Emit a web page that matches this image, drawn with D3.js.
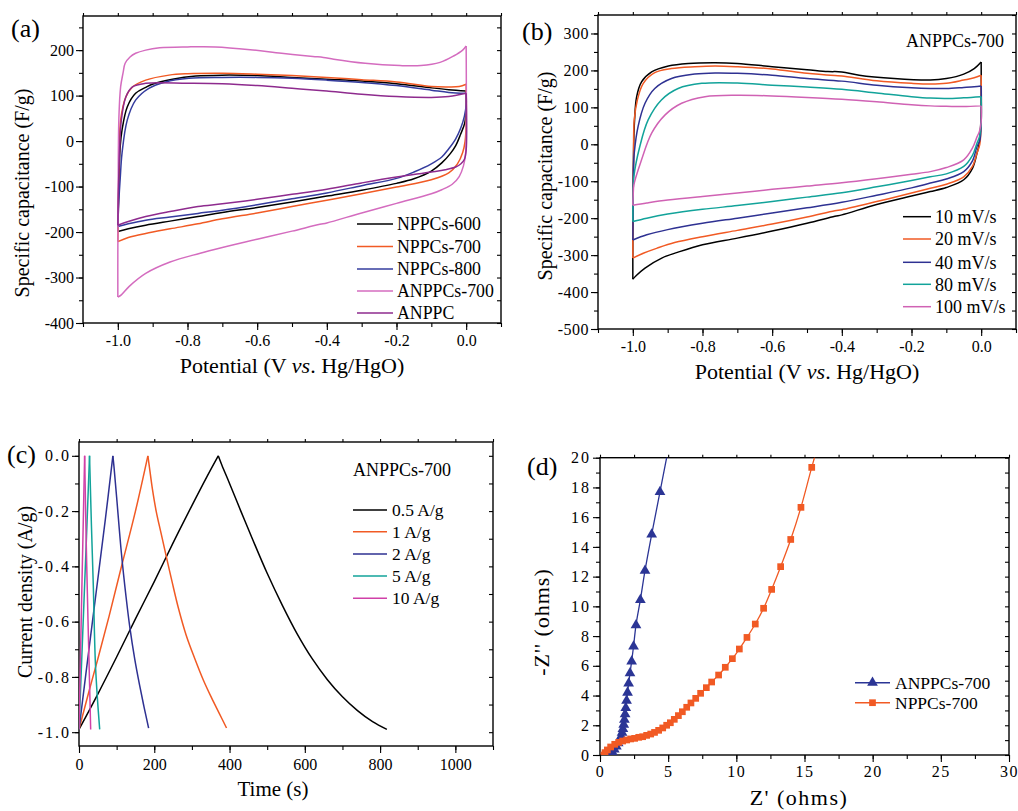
<!DOCTYPE html>
<html>
<head>
<meta charset="utf-8">
<script src="https://cdn.jsdelivr.net/npm/d3@7"></script>
<style>
  body { margin: 0; background: #fff; }
  svg { display: block; font-family: "Liberation Serif", "Times New Roman", serif; }
</style>
</head>
<body>
<script>

// ---------- panel (a): CV loops, potential (V) vs specific capacitance (F/g)
const aNames = ['NPPCs-600', 'NPPCs-700', 'NPPCs-800', 'ANPPCs-700', 'ANPPC'];
const aColors = ['#000000', '#f15a24', '#353c9e', '#d46cbf', '#8e2b8e'];
const aXTicks = [-1.0, -0.8, -0.6, -0.4, -0.2, 0.0];
const aYTicks = [-400, -300, -200, -100, 0, 100, 200];

const a600 = [[-1.0,-199],[-0.998,-120],[-0.996,-64],[-0.993,-10],[-0.988,24],[-0.973,75],[-0.949,105],[-0.92,118],[-0.901,125],[-0.843,136],[-0.776,143],[-0.7,145],[-0.6,144],[-0.5,140],[-0.4,136],[-0.3,132],[-0.2,126],[-0.1,117],[-0.05,113],[0,110],
  [0,75],[-0.004,40],[-0.016,15],[-0.03,-10],[-0.045,-27],[-0.07,-48],[-0.1,-66],[-0.15,-83],[-0.2,-93],[-0.3,-108],[-0.4,-121],[-0.5,-134],[-0.6,-146],[-0.7,-157],[-0.77,-166],[-0.85,-176],[-0.92,-185],[-0.97,-193],[-1.0,-199]];
const a700 = [[-1.0,-221],[-0.998,-120],[-0.996,-30],[-0.992,46],[-0.977,97],[-0.958,119],[-0.92,134],[-0.853,145],[-0.8,148],[-0.7,149],[-0.6,147],[-0.5,144],[-0.4,140],[-0.3,135],[-0.2,130],[-0.1,120],[-0.05,119],[-0.02,120],[0,125],
  [0,40],[-0.003,0],[-0.01,-25],[-0.025,-50],[-0.05,-70],[-0.1,-85],[-0.2,-101],[-0.3,-116],[-0.4,-130],[-0.5,-144],[-0.6,-158],[-0.7,-171],[-0.77,-182],[-0.85,-193],[-0.92,-203],[-0.97,-212],[-1.0,-221]];
const a800 = [[-1.0,-188],[-0.997,-130],[-0.993,-80],[-0.988,-27],[-0.973,46],[-0.949,90],[-0.911,116],[-0.863,130],[-0.796,138],[-0.7,140],[-0.6,140],[-0.5,138],[-0.4,134],[-0.3,129],[-0.2,122],[-0.1,112],[-0.05,107],[0,105],
  [0,80],[-0.005,55],[-0.015,30],[-0.03,5],[-0.05,-17],[-0.07,-35],[-0.1,-50],[-0.15,-68],[-0.2,-82],[-0.3,-98],[-0.4,-114],[-0.5,-127],[-0.6,-140],[-0.7,-152],[-0.77,-159],[-0.85,-167],[-0.92,-174],[-0.97,-182],[-1.0,-188]];
const aA700 = [[-1.0,-343],[-1.0,-250],[-0.999,-100],[-0.997,50],[-0.992,119],[-0.985,150],[-0.979,171],[-0.965,185],[-0.949,193],[-0.92,200],[-0.88,205],[-0.8,207],[-0.72,207],[-0.62,201],[-0.53,193],[-0.44,186],[-0.41,184],[-0.38,180],[-0.29,171],[-0.19,166],[-0.13,166],[-0.075,173],[-0.036,187],[-0.01,200],[0,209],
  [0,0],[-0.002,-30],[-0.008,-55],[-0.02,-78],[-0.04,-95],[-0.07,-107],[-0.1,-116],[-0.2,-137],[-0.3,-158],[-0.4,-180],[-0.42,-183],[-0.5,-198],[-0.6,-216],[-0.7,-234],[-0.766,-247],[-0.85,-266],[-0.92,-291],[-0.968,-320],[-0.99,-338],[-1.0,-343]];
const aA = [[-1.0,-185],[-0.998,-100],[-0.995,-20],[-0.99,46],[-0.977,97],[-0.958,119],[-0.92,127],[-0.8,127],[-0.7,126],[-0.6,122],[-0.5,116],[-0.42,111],[-0.4,110],[-0.3,103],[-0.2,98],[-0.1,96],[-0.05,98],[0,105],
  [0,-20],[-0.005,-40],[-0.015,-50],[-0.03,-57],[-0.06,-63],[-0.1,-68],[-0.2,-79],[-0.3,-92],[-0.4,-106],[-0.5,-117],[-0.6,-128],[-0.7,-138],[-0.77,-144],[-0.85,-155],[-0.92,-166],[-0.97,-177],[-1.0,-185]];

// ---------- panel (b): CV of ANPPCs-700 at several scan rates
const bNames = ['10 mV/s', '20 mV/s', '40 mV/s', '80 mV/s', '100 mV/s'];
const bColors = ['#000000', '#f15a24', '#2e3192', '#12a39a', '#d062b4'];
const bXTicks = [-1.0, -0.8, -0.6, -0.4, -0.2, 0.0];
const bYTicks = [-500, -400, -300, -200, -100, 0, 100, 200, 300];

const b10 = [[-1.0,-365],[-1.0,-250],[-0.999,-100],[-0.997,20],[-0.995,66],[-0.989,129],[-0.975,169],[-0.946,196],[-0.898,212],[-0.841,219],[-0.764,221],[-0.7,219],[-0.6,210],[-0.5,202],[-0.44,197],[-0.4,196],[-0.35,187],[-0.25,178],[-0.146,174],[-0.1,178],[-0.05,190],[-0.02,205],[0,223],
  [0,100],[-0.002,40],[-0.006,0],[-0.012,-24],[-0.025,-65],[-0.05,-96],[-0.1,-117],[-0.146,-128],[-0.2,-140],[-0.3,-163],[-0.4,-191],[-0.42,-195],[-0.5,-214],[-0.6,-235],[-0.7,-254],[-0.8,-272],[-0.87,-292],[-0.917,-308],[-0.965,-335],[-0.99,-355],[-1.0,-365]];
const b20 = [[-1.0,-308],[-1.0,-200],[-0.998,-50],[-0.996,66],[-0.987,120],[-0.97,165],[-0.937,194],[-0.889,205],[-0.822,210],[-0.764,212],[-0.7,210],[-0.6,204],[-0.5,192],[-0.42,186],[-0.4,185],[-0.3,172],[-0.2,165],[-0.146,163],[-0.1,165],[-0.05,174],[-0.02,180],[0,187],
  [0,60],[-0.004,0],[-0.012,-24],[-0.025,-60],[-0.05,-88],[-0.1,-108],[-0.146,-119],[-0.2,-132],[-0.3,-155],[-0.4,-177],[-0.42,-180],[-0.5,-197],[-0.6,-216],[-0.7,-233],[-0.8,-250],[-0.88,-266],[-0.93,-281],[-0.97,-295],[-1.0,-308]];
const b40 = [[-1.0,-259],[-0.999,-150],[-0.998,-60],[-0.996,-24],[-0.985,48],[-0.965,111],[-0.937,151],[-0.889,178],[-0.822,190],[-0.764,193],[-0.7,192],[-0.6,187],[-0.5,178],[-0.4,171],[-0.3,160],[-0.2,153],[-0.146,151],[-0.1,151],[-0.05,154],[-0.02,156],[0,158],
  [0,60],[-0.004,10],[-0.012,-6],[-0.025,-45],[-0.05,-74],[-0.1,-94],[-0.146,-105],[-0.2,-118],[-0.3,-138],[-0.4,-157],[-0.5,-172],[-0.6,-186],[-0.7,-200],[-0.8,-214],[-0.9,-231],[-0.96,-245],[-1.0,-259]];
const b80 = [[-1.0,-209],[-0.999,-130],[-0.997,-87],[-0.98,-6],[-0.956,66],[-0.918,120],[-0.87,151],[-0.802,165],[-0.7,166],[-0.6,160],[-0.5,155],[-0.4,149],[-0.3,139],[-0.2,129],[-0.146,125],[-0.1,124],[-0.05,126],[0,129],
  [0,60],[-0.005,20],[-0.012,3],[-0.025,-30],[-0.05,-60],[-0.1,-80],[-0.146,-88],[-0.2,-98],[-0.3,-115],[-0.4,-131],[-0.5,-143],[-0.6,-155],[-0.7,-166],[-0.8,-176],[-0.9,-189],[-0.96,-200],[-1.0,-209]];
const b100 = [[-1.0,-165],[-0.999,-140],[-0.997,-110],[-0.975,-42],[-0.946,30],[-0.908,79],[-0.86,111],[-0.793,129],[-0.7,133],[-0.6,131],[-0.5,127],[-0.4,122],[-0.3,115],[-0.2,107],[-0.146,104],[-0.1,103],[-0.05,102],[0,104],
  [0,60],[-0.005,35],[-0.012,20],[-0.025,-10],[-0.05,-42],[-0.1,-63],[-0.146,-74],[-0.2,-81],[-0.3,-93],[-0.4,-104],[-0.5,-113],[-0.6,-122],[-0.7,-132],[-0.8,-141],[-0.9,-151],[-0.96,-159],[-1.0,-165]];

// ---------- panel (c): charge/discharge, time (s) vs current density
const cNames = ['0.5 A/g', '1 A/g', '2 A/g', '5 A/g', '10 A/g'];
const cColors = ['#000000', '#f15a24', '#2e3192', '#12a39a', '#d040a8'];
const cXTicks = [0, 200, 400, 600, 800, 1000];
const cYTicks = [0.0, -0.2, -0.4, -0.6, -0.8, -1.0];

const c05 = [[0,-0.99],[50,-0.862],[100,-0.728],[150,-0.59],[200,-0.455],[250,-0.315],[300,-0.18],[340,-0.075],[370,0],
  [380,-0.035],[400,-0.1],[430,-0.2],[460,-0.298],[500,-0.425],[540,-0.54],[580,-0.645],[620,-0.735],[660,-0.81],[700,-0.872],[740,-0.922],[780,-0.962],[818,-0.99]];
const c1 = [[0,-0.99],[25,-0.86],[50,-0.735],[80,-0.58],[112,-0.405],[150,-0.2],[183,0],
  [187,-0.04],[195,-0.12],[205,-0.2],[218,-0.28],[232,-0.365],[248,-0.46],[263,-0.545],[285,-0.65],[308,-0.735],[330,-0.81],[352,-0.875],[372,-0.93],[392,-0.985]];
const c2 = [[0,-0.99],[20,-0.77],[45,-0.5],[70,-0.23],[90,0],
  [93,-0.04],[100,-0.15],[112.5,-0.35],[125,-0.51],[135,-0.62],[148,-0.735],[161,-0.83],[173,-0.91],[185,-0.985]];
const c5 = [[0,-0.99],[10,-0.64],[20,-0.29],[28,0],
  [33,-0.25],[38,-0.47],[43.4,-0.745],[49,-0.88],[55,-0.99]];
const c10 = [[0,-0.99],[7,-0.52],[15,0],
  [19,-0.3],[24,-0.6],[28,-0.82],[31,-0.99]];

// ---------- panel (d): Nyquist plots, Z' vs -Z'' (ohms)
const dNames = ['ANPPCs-700', 'NPPCs-700'];
const dColors = ['#2b3595', '#f15a24'];
const dXTicks = [0, 5, 10, 15, 20, 25, 30];
const dYTicks = [0, 2, 4, 6, 8, 10, 12, 14, 16, 18, 20];

const dAnppc700 = [[0.75,0.05],[0.9,0.2],[1.05,0.38],[1.2,0.58],[1.33,0.8],[1.45,1.02],[1.55,1.25],[1.62,1.5],[1.68,1.76],[1.74,2.05],[1.79,2.38],[1.84,2.75],[1.89,3.17],[1.95,3.65],[2.02,4.2],[2.1,4.82],[2.2,5.5],[2.32,6.3],[2.46,7.3],[2.64,8.74],[2.96,10.43],[3.3,12.4],[3.79,14.84],[4.4,17.7],[5.1,21]];
const dNppc700 = [[0.29,0],[0.37,0.16],[0.54,0.34],[0.78,0.54],[1.08,0.72],[1.37,0.85],[1.66,0.94],[1.96,1.01],[2.25,1.08],[2.54,1.12],[2.84,1.19],[3.13,1.23],[3.42,1.32],[3.72,1.41],[4.0,1.52],[4.3,1.66],[4.6,1.82],[4.89,2.0],[5.16,2.17],[5.45,2.4],[5.75,2.65],[6.04,2.91],[6.36,3.21],[6.67,3.5],[7.02,3.81],[7.38,4.15],[7.8,4.53],[8.19,4.91],[8.7,5.38],[9.19,5.9],[9.71,6.48],[10.22,7.13],[10.78,7.91],[11.39,8.81],[12.0,9.87],[12.59,11.14],[13.25,12.67],[13.99,14.5],[14.74,16.66],[15.53,19.35],[16.2,21.5]];


const svg = d3.select('body').append('svg').attr('width', 1018).attr('height', 811);

const fmt1 = d => d.toFixed(1);
const fmt0 = d => String(d);

function makePanel(o) {
    let x = d3.scaleLinear().domain(o.xDomain).range([o.left, o.right]);
    let y = d3.scaleLinear().domain(o.yDomain).range([o.bottom, o.top]);
    let g = svg.append('g');

    svg.append('clipPath').attr('id', 'clip-' + o.name)
        .append('rect')
        .attr('x', o.left).attr('y', o.top)
        .attr('width', o.right - o.left).attr('height', o.bottom - o.top);

    function addAxis(axis, tr, vals, size, fmt, pad, ls) {
        let a = g.append('g').attr('transform', tr)
            .call(axis.tickValues(vals).tickSize(size).tickSizeOuter(0).tickPadding(pad).tickFormat(fmt));
        a.select('.domain').remove();
        a.attr('font-family', null).attr('font-size', 16);
        a.selectAll('line').attr('stroke', '#000').attr('stroke-width', 1.1);
        a.selectAll('text').attr('fill', '#000').style('letter-spacing', ls || null);
        return a;
    }

    addAxis(d3.axisBottom(x), `translate(0,${o.bottom})`, o.xMinor, 4, '', 0);
    addAxis(d3.axisBottom(x), `translate(0,${o.bottom})`, o.xMajor, 7, o.xFmt, o.xPad, o.xLs);
    addAxis(d3.axisLeft(y), `translate(${o.left},0)`, o.yMinor, 4, '', 0);
    addAxis(d3.axisLeft(y), `translate(${o.left},0)`, o.yMajor, 7, o.yFmt, o.yPad, o.yLs);
    addAxis(d3.axisTop(x), `translate(0,${o.top})`, o.xMinor, 3, '', 0);
    addAxis(d3.axisRight(y), `translate(${o.right},0)`, o.yMinor, -4, '', 0);

    g.append('rect')
        .attr('x', o.left).attr('y', o.top)
        .attr('width', o.right - o.left).attr('height', o.bottom - o.top)
        .attr('fill', 'none').attr('stroke', '#000').attr('stroke-width', 1.4);

    let plot = g.append('g').attr('clip-path', `url(#clip-${o.name})`);
    return { g, plot, x, y };
}

function addLegend(g, names, colors, lx0, lx1, tx, rows, size, marker) {
    names.forEach((n, i) => {
        g.append('line')
            .attr('x1', lx0).attr('x2', lx1).attr('y1', rows[i]).attr('y2', rows[i])
            .attr('stroke', colors[i]).attr('stroke-width', 1.5);
        if (marker) {
            g.append('path')
                .attr('d', d3.symbol().type(marker[i]).size(marker[i] === d3.symbolTriangle ? 50 : 45)())
                .attr('transform', `translate(${(lx0 + lx1) / 2},${rows[i]})`)
                .attr('fill', colors[i]);
        }
        g.append('text')
            .attr('x', tx).attr('y', rows[i]).attr('dy', '0.35em')
            .attr('font-size', size).text(n);
    });
}

function addText(txt, x, y, size, rotate, anchor) {
    let t = svg.append('text')
        .attr('font-size', size)
        .attr('text-anchor', anchor || 'middle');
    if (rotate) t.attr('transform', `translate(${x},${y}) rotate(-90)`);
    else t.attr('x', x).attr('y', y);
    return t.text(txt);
}

function potentialTitle(x, y) {
    let t = svg.append('text').attr('x', x).attr('y', y).attr('font-size', 22).attr('text-anchor', 'middle');
    t.append('tspan').text('Potential (V ');
    t.append('tspan').attr('font-style', 'italic').text('vs');
    t.append('tspan').text('. Hg/HgO)');
}

const smooth = d3.curveCatmullRom.alpha(0.5);

// splits a CV loop at its first point on the 0 V edge and draws both branches
function drawLoop(p, pts, color) {
    let line = d3.line().x(d => p.x(d[0])).y(d => p.y(d[1])).curve(smooth);
    let k = pts.findIndex(d => d[0] === 0);
    [pts.slice(0, k + 1), pts.slice(k)].forEach(seg => {
        p.plot.append('path').attr('d', line(seg))
            .attr('fill', 'none').attr('stroke', color).attr('stroke-width', 1.5);
    });
}

// ----- (a)
let pA = makePanel({
    name: 'a', left: 83, right: 501, top: 16, bottom: 323,
    xDomain: [-1.1, 0.1], yDomain: [-400, 275],
    xMajor: aXTicks, xMinor: d3.range(-11, 2).map(v => v / 10), xFmt: fmt1, xPad: 5,
    yMajor: aYTicks, yMinor: d3.range(-400, 276, 50), yFmt: fmt0, yPad: 2
});
[a600, a700, a800, aA700, aA].forEach((s, i) => drawLoop(pA, s, aColors[i]));
addLegend(pA.g, aNames, aColors, 357, 393, 397, [224, 246.5, 269, 291, 313], 17.8);

// ----- (b)
let pB = makePanel({
    name: 'b', left: 598, right: 1016, top: 15, bottom: 329,
    xDomain: [-1.1, 0.1], yDomain: [-500, 350],
    xMajor: bXTicks, xMinor: d3.range(-11, 2).map(v => v / 10), xFmt: fmt1, xPad: 5,
    yMajor: bYTicks, yMinor: d3.range(-500, 351, 50), yFmt: fmt0, yPad: 2, yLs: '0.5px'
});
[b10, b20, b40, b80, b100].forEach((s, i) => drawLoop(pB, s, bColors[i]));
addLegend(pB.g, bNames, bColors, 903, 931, 935, [216.7, 239, 262.3, 284.3, 306.7], 18);
addText('ANPPCs-700', 1004, 47, 18, false, 'end');

// ----- (c)
let pC = makePanel({
    name: 'c', left: 79, right: 493, top: 442, bottom: 746,
    xDomain: [0, 1100], yDomain: [-1.05, 0.05],
    xMajor: cXTicks, xMinor: d3.range(0, 1101, 100), xFmt: fmt0, xPad: 6,
    yMajor: cYTicks, yMinor: d3.range(-10, 1).map(v => v / 10), yFmt: fmt1, yPad: 1, yLs: '2px'
});
[c05, c1, c2, c5, c10].forEach((s, i) => {
    let line = d3.line().x(d => pC.x(d[0])).y(d => pC.y(d[1])).curve(smooth);
    let k = d3.maxIndex(s, d => d[1]);
    [s.slice(0, k + 1), s.slice(k)].forEach(seg => {
        pC.plot.append('path').attr('d', line(seg))
            .attr('fill', 'none').attr('stroke', cColors[i]).attr('stroke-width', 1.5);
    });
});
addLegend(pC.g, cNames, cColors, 353, 387, 392, [510, 531.7, 554, 576, 598.3], 17.5);
addText('ANPPCs-700', 353, 476, 18, false, 'start');

// ----- (d)
let pD = makePanel({
    name: 'd', left: 600, right: 1009, top: 457.7, bottom: 755,
    xDomain: [0, 30], yDomain: [0, 20],
    xMajor: dXTicks, xMinor: d3.range(0, 30.1, 2.5), xFmt: fmt0, xPad: 4, xLs: '1.5px',
    yMajor: dYTicks, yMinor: d3.range(0, 21, 1), yFmt: fmt0, yPad: 2, yLs: '2px'
});
const dSymbols = [d3.symbolTriangle, d3.symbolSquare];
[dAnppc700, dNppc700].forEach((s, i) => {
    let line = d3.line().x(d => pD.x(d[0])).y(d => pD.y(d[1])).curve(smooth);
    pD.plot.append('path').attr('d', line(s))
        .attr('fill', 'none').attr('stroke', dColors[i]).attr('stroke-width', 1.3);
    pD.plot.selectAll(null).data(s).enter()
        .append('path')
        .attr('d', d3.symbol().type(dSymbols[i]).size(i === 0 ? 50 : 45)())
        .attr('transform', d => `translate(${pD.x(d[0])},${pD.y(d[1])})`)
        .attr('fill', dColors[i]);
});
addLegend(pD.g, dNames, dColors, 855, 890, 895, [682.7, 702.7], 17.5, dSymbols);

// ----- titles and panel letters
addText('Specific capacitance (F/g)', 29, 193, 20, true);
potentialTitle(292, 373);
addText('Specific capacitance (F/g)', 552, 176, 20, true);
potentialTitle(807, 379);
addText('Current density (A/g)', 32, 592, 20, true);
addText('Time (s)', 273, 796, 21);
addText("-Z'' (ohms)", 549, 622, 22, true).style('letter-spacing', '1px');
addText("Z' (ohms)", 799, 805, 22).style('letter-spacing', '1.5px');

addText('(a)', 11, 37, 26, false, 'start');
addText('(b)', 522, 40, 26, false, 'start');
addText('(c)', 7, 463, 26, false, 'start');
addText('(d)', 527, 475, 26, false, 'start');

</script>
</body>
</html>
